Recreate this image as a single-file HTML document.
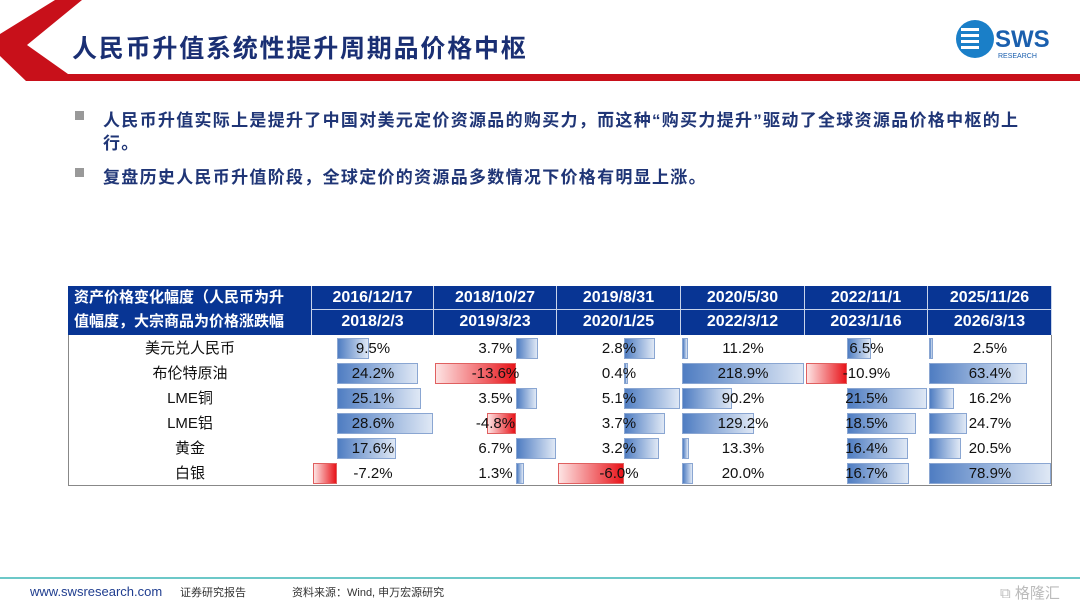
<!DOCTYPE html>
<html><head><meta charset="utf-8">
<style>
body{margin:0;width:1080px;height:608px;background:#fff;position:relative;overflow:hidden;font-family:"Liberation Sans","Noto Sans CJK SC",sans-serif}
.abs{position:absolute}
#title{left:72px;top:29px;font-size:25px;color:#1a2f73;font-weight:bold;letter-spacing:1.8px}
.bullet{left:75px;font-size:17px;font-weight:bold;color:#1f3576;letter-spacing:1.3px}
.bullet i{position:absolute;left:0;top:5px;width:9px;height:9px;background:#999}
.bullet span{position:absolute;left:28px;white-space:nowrap}
.hd{background:#083594;color:#fff;font-weight:bold;font-size:16px;text-align:center;line-height:24px;border-right:1px solid #c8d4ea;box-sizing:border-box}
.lbl{font-size:15px;color:#111;text-align:center;width:244px;left:68px;line-height:25px}
.val{font-size:15px;color:#111;text-align:center;line-height:25px}
</style></head><body>
<svg class="abs" style="left:0;top:0" width="1080" height="84">
<polygon points="55,0 82,0 27,45 68,74 1080,74 1080,81 26,81 0,56 0,34" fill="#c8101a"/>
</svg>
<div id="title" class="abs">人民币升值系统性提升周期品价格中枢</div>
<svg class="abs" style="left:955px;top:18px" width="100" height="45">
<circle cx="20" cy="21" r="19" fill="#1a7fc8"/>
<rect x="6" y="10" width="18" height="3" fill="#fff"/><rect x="6" y="16" width="18" height="3" fill="#fff"/><rect x="6" y="22" width="18" height="3" fill="#fff"/><rect x="6" y="28" width="18" height="3" fill="#fff"/>
<text x="40" y="29" font-family="Liberation Sans" font-weight="bold" font-size="24" fill="#1a5fae">SWS</text>
<text x="43" y="40" font-family="Liberation Sans" font-size="7" fill="#1a5fae">RESEARCH</text>
</svg>
<div class="abs bullet" style="top:106px;width:1000px;height:45px"><i></i><span style="top:0">人民币升值实际上是提升了中国对美元定价资源品的购买力，而这种“购买力提升”驱动了全球资源品价格中枢的上</span><span style="top:23px">行。</span></div>
<div class="abs bullet" style="top:163px;width:1000px;height:22px"><i></i><span style="top:0">复盘历史人民币升值阶段，全球定价的资源品多数情况下价格有明显上涨。</span></div>

<div class="abs hd" style="left:68px;top:286px;width:244px;height:49px;text-align:left;padding-left:6px;font-size:15px;line-height:24px">资产价格变化幅度（人民币为升<br>值幅度，大宗商品为价格涨跌幅</div>
<div class="abs" style="left:68px;top:335px;width:984px;height:151px;border:1px solid #888;border-top:none;box-sizing:border-box"></div>

<div class="abs" style="left:0;top:577px;width:1080px;height:2px;background:#6cc8c8"></div>
<div class="abs" style="left:30px;top:584px;font-size:13px;color:#1f3d8f">www.swsresearch.com</div>
<div class="abs" style="left:180px;top:584px;font-size:11px;color:#333">证券研究报告</div>
<div class="abs" style="left:292px;top:584px;font-size:11px;color:#333">资料来源：Wind, 申万宏源研究</div>
<div class="abs" style="left:1000px;top:582px;font-size:15px;color:#bbb">⧉ 格隆汇</div>

<script>
const startDates=["2016/12/17","2018/10/27","2019/8/31","2020/5/30","2022/11/1","2025/11/26"];
const endDates=["2018/2/3","2019/3/23","2020/1/25","2022/3/12","2023/1/16","2026/3/13"];
const assets=["美元兑人民币","布伦特原油","LME铜","LME铝","黄金","白银"];
const col2016=[9.5,24.2,25.1,28.6,17.6,-7.2];
const col2018=[3.7,-13.6,3.5,-4.8,6.7,1.3];
const col2019=[2.8,0.4,5.1,3.7,3.2,-6.0];
const col2020=[11.2,218.9,90.2,129.2,13.3,20.0];
const col2022=[6.5,-10.9,21.5,18.5,16.4,16.7];
const col2025=[2.5,63.4,16.2,24.7,20.5,78.9];
const cols=[col2016,col2018,col2019,col2020,col2022,col2025];
const colX=[312,434,557,681,805,928,1052];
const root=document.body;
function mk(cls,style,txt){const d=document.createElement('div');d.className='abs '+cls;d.style.cssText=style;if(txt!==undefined)d.textContent=txt;root.appendChild(d);return d;}
for(let c=0;c<6;c++){
  const L=colX[c],W=colX[c+1]-colX[c];
  let h=mk('hd',`left:${L}px;top:286px;width:${W}px;height:24px;border-bottom:1px solid #c8d4ea`,startDates[c]);
  
  
  h=mk('hd',`left:${L}px;top:310px;width:${W}px;height:25px`,endDates[c]);
  
  
  const vals=cols[c];
  const mx=Math.max(0,...vals),mn=Math.min(0,...vals);
  const sc=(W-2)/(mx-mn);
  const axis=L+1+(-mn)*sc;
  for(let r=0;r<6;r++){
    const v=vals[r],y=336+r*25;
    const len=Math.abs(v)*sc;
    let b;
    if(v>=0){b=mk('',`left:${axis}px;top:${y+2}px;width:${len}px;height:21px;background:linear-gradient(to right,#4f7dc2,#dfe8f5);border:1px solid #8aa6d2;box-sizing:border-box`);}
    else{b=mk('',`left:${axis-len}px;top:${y+2}px;width:${len}px;height:21px;background:linear-gradient(to right,#fde3e3,#e8141a);border:1px solid #e06060;box-sizing:border-box`);}
    
    
    const t=mk('val',`left:${L}px;top:${y}px;width:${W}px`,v.toFixed(1)+'%');
    
    
  }
}
for(let r=0;r<6;r++){
  const t=mk('lbl',`top:${336+r*25}px`,assets[r]);
  
  
}
</script>
</body></html>
